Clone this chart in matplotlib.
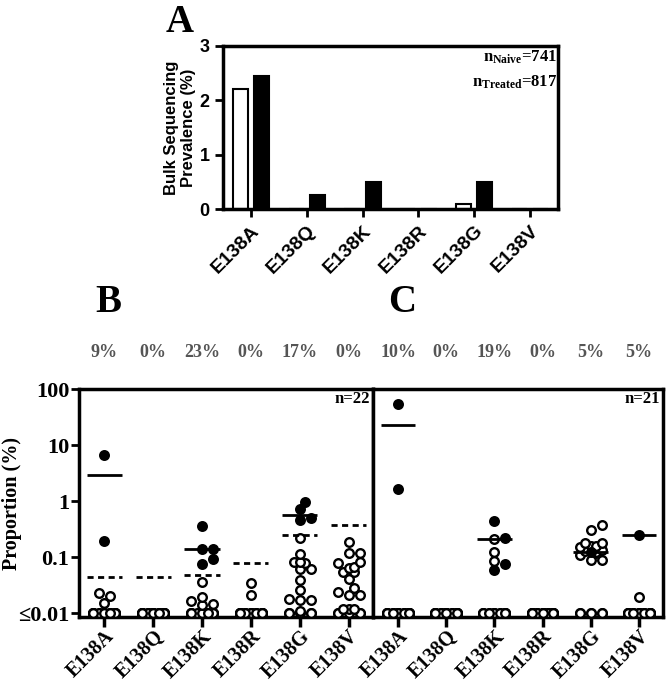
import numpy as np
import matplotlib.pyplot as plt

plt.rcParams['mathtext.fontset'] = 'custom'
plt.rcParams['mathtext.bf'] = 'Liberation Serif:bold'
plt.rcParams['mathtext.rm'] = 'Liberation Serif'

muts = ["E138A", "E138Q", "E138K", "E138R", "E138G", "E138V"]

# panel A: bulk sequencing prevalence (%)
naive_bulk = [2.2, 0, 0, 0, 0.1, 0]
treated_bulk = [2.45, 0.25, 0.5, 0, 0.5, 0]

# panel B (n=22): filled = above cutoff, open = below; 0.01 means <=0.01
B_filled = [[6.5, 0.195],
            [],
            [0.355, 0.141, 0.141, 0.092, 0.076],
            [],
            [0.96, 0.72, 0.50, 0.45],
            []]
B_open = [[0.0227, 0.0198, 0.0151] + [0.01] * 17,
          [0.01] * 22,
          [0.036, 0.0195, 0.0165, 0.0145, 0.014] + [0.01] * 12,
          [0.0337, 0.0209] + [0.01] * 20,
          [0.217, 0.115, 0.08, 0.081, 0.079, 0.06, 0.061, 0.0385, 0.0263,
           0.0174, 0.0176, 0.0172, 0.011] + [0.01] * 5,
          [0.186, 0.119, 0.12, 0.079, 0.08, 0.065, 0.066, 0.053, 0.054, 0.040,
           0.0275, 0.024, 0.021, 0.0212, 0.0118, 0.0119, 0.0117] + [0.01] * 5]
B_mean = [2.97, None, 0.141, None, 0.557, None]
B_dash = [0.0436, 0.0436, 0.0487, 0.077, 0.25, 0.375]
B_pct = ["9%", "0%", "23%", "0%", "17%", "0%"]

# panel C (n=21)
C_filled = [[53.7, 1.64],
            [],
            [0.435, 0.215, 0.074, 0.059],
            [],
            [0.125],
            [0.246]]
C_open = [[0.01] * 19,
          [0.01] * 21,
          [0.206, 0.123, 0.085] + [0.01] * 14,
          [0.01] * 21,
          [0.37, 0.31, 0.18, 0.175, 0.16, 0.155, 0.15, 0.135, 0.13, 0.125,
           0.12, 0.11, 0.09, 0.09] + [0.01] * 6,
          [0.019] + [0.01] * 19]
C_mean = [22.7, None, 0.206, None, 0.123, 0.246]
C_pct = ["10%", "0%", "19%", "0%", "5%", "5%"]

W, H = 666, 688
fig = plt.figure(figsize=(W / 100, H / 100), dpi=100)


def box(l, t, r, b):
    return [l / W, 1 - b / H, (r - l) / W, (b - t) / H]


SANS = 'Liberation Sans'
SERIF = 'Liberation Serif'

# ---------- panel A ----------
axA = fig.add_axes(box(223, 46, 558, 209))
x = np.arange(len(muts))
axA.bar(x - 0.19, naive_bulk, 0.27, color='white', edgecolor='black', lw=1.5)
axA.bar(x + 0.19, treated_bulk, 0.27, color='black', edgecolor='black', lw=1.5)
axA.set_xlim(-0.5, 5.5)
axA.set_ylim(0, 3)
axA.set_yticks([0, 1, 2, 3])
axA.set_xticks(x)
axA.set_xticklabels(muts, rotation=45, ha='right', rotation_mode='anchor',
                    fontsize=14, fontweight='bold', family=SANS)
for lab in axA.get_yticklabels():
    lab.set_fontsize(13)
    lab.set_fontweight('bold')
    lab.set_family(SANS)
axA.tick_params(width=2, length=6)
for s in axA.spines.values():
    s.set_linewidth(2.5)
axA.set_ylabel("Bulk Sequencing\nPrevalence (%)", fontsize=12,
               fontweight='bold', family=SANS, labelpad=3, linespacing=1.15)
axA.text(0.997, 0.93, r'$\mathbf{n_{Naive}}$=741', transform=axA.transAxes,
         ha='right', va='center', fontsize=12, family=SERIF, fontweight='bold')
axA.text(0.997, 0.78, r'$\mathbf{n_{Treated}}$=817', transform=axA.transAxes,
         ha='right', va='center', fontsize=12, family=SERIF, fontweight='bold')
fig.text(180 / W, 1 - 22 / H, "A", fontsize=28, fontweight='bold', family=SERIF,
         ha='center', va='center')

# ---------- panels B and C ----------
PX_DEC = 56.3   # pixels per decade
PX_CAT = 48.5   # pixels per category


def swarm(vals, step=5.5, dmin=8.0, nmax=2):
    placed = []
    offs = []
    cands = [0.0]
    for k in range(1, nmax + 1):
        cands += [k * step, -k * step]
    for v in vals:
        y = np.log10(v) * PX_DEC
        pick = None
        for c in cands:
            if all(np.hypot(c - px, y - py) >= dmin for px, py in placed):
                pick = c
                break
        if pick is None:
            pick = cands[len(placed) % len(cands)]
        placed.append((pick, y))
        offs.append(pick / PX_CAT)
    return offs


def draw_panel(ax, filled, opened, means, dashes, pct, ntext, letter, show_y):
    for i in range(len(muts)):
        vals = [(v, True) for v in filled[i]] + [(v, False) for v in opened[i]]
        vals.sort(key=lambda t: t[0])
        offs = swarm([v for v, _ in vals])
        for (v, f), o in zip(vals, offs):
            if not f:
                ax.plot(i + o, v, 'o', ms=6.2, mew=1.7, mec='black',
                        mfc='white', zorder=3)
        for (v, f), o in zip(vals, offs):
            if f:
                ax.plot(i + o, v, 'o', ms=6.2, mew=1.7, mec='black',
                        mfc='black', zorder=4)
        if means[i] is not None:
            ax.hlines(means[i], i - 0.36, i + 0.36, colors='black', lw=2,
                      zorder=5)
        if dashes is not None:
            ax.hlines(dashes[i], i - 0.36, i + 0.36, colors='black', lw=2,
                      linestyles=(0, (2.2, 1.6)), zorder=5)
        ax.text(i, 1.16, pct[i], transform=ax.get_xaxis_transform(),
                ha='center', va='center', fontsize=13, fontweight='bold',
                family=SERIF, color='#555555')
    ax.set_yscale('log')
    ax.set_ylim(0.0085, 100)
    ax.set_xlim(-0.52, 5.5)
    ax.set_xticks(range(len(muts)))
    ax.set_xticklabels(muts, rotation=45, ha='right', rotation_mode='anchor',
                       fontsize=14.5, fontweight='bold', family=SERIF)
    ax.minorticks_off()
    ax.set_yticks([0.01, 0.1, 1, 10, 100])
    if show_y:
        ax.set_yticklabels(["\u22640.01", "0.1", "1", "10", "100"],
                           fontsize=16, fontweight='bold', family=SERIF)
        ax.tick_params(axis='y', width=2, length=6, pad=1)
    else:
        ax.tick_params(axis='y', left=False, labelleft=False)
    ax.tick_params(axis='x', width=2.5, length=7, pad=0)
    for s in ax.spines.values():
        s.set_linewidth(2.5)
    ax.text(0.99, 0.955, ntext, transform=ax.transAxes, ha='right',
            va='center', fontsize=12, fontweight='bold', family=SERIF)
    ax.text(0.1, 1.38, letter, transform=ax.transAxes, ha='center',
            va='center', fontsize=28, fontweight='bold', family=SERIF)


axB = fig.add_axes(box(79, 389, 373, 617))
axC = fig.add_axes(box(373, 389, 663, 617))
draw_panel(axB, B_filled, B_open, B_mean, B_dash, B_pct, "n=22", "B", True)
draw_panel(axC, C_filled, C_open, C_mean, None, C_pct, "n=21", "C", False)

fig.text(12 / W, 1 - 503 / H, "Proportion (%)", rotation=90, ha='center',
         va='center', fontsize=14.5, fontweight='bold', family=SERIF)

fig.savefig("out.png", dpi=100)
